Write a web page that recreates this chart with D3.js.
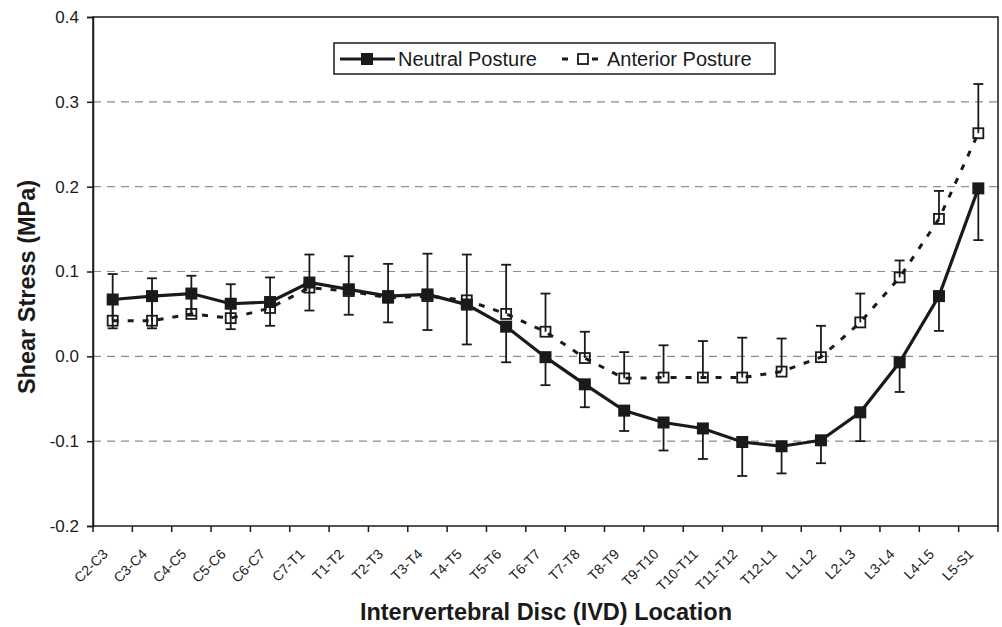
<!DOCTYPE html>
<html>
<head>
<meta charset="utf-8">
<script src="https://cdn.jsdelivr.net/npm/d3@7"></script>
<style>
  body { margin: 0; background: #fff; }
  text { font-family: "Liberation Sans", Arial, sans-serif; fill: #1a1a1a; }
</style>
</head>
<body>
<div id="chart"></div>
<script>
// IVD locations
const categories = ["C2-C3","C3-C4","C4-C5","C5-C6","C6-C7","C7-T1","T1-T2","T2-T3","T3-T4","T4-T5",
  "T5-T6","T6-T7","T7-T8","T8-T9","T9-T10","T10-T11","T11-T12","T12-L1","L1-L2","L2-L3","L3-L4","L4-L5","L5-S1"];

// Neutral posture: mean shear stress and (minus) error
const neutral = [0.067,0.071,0.074,0.062,0.064,0.087,0.079,0.071,0.073,0.061,
  0.035,-0.001,-0.033,-0.064,-0.078,-0.085,-0.101,-0.106,-0.099,-0.066,-0.007,0.071,0.198];
const neutralErr = [0.034,0.038,0.026,0.030,0.028,0.033,0.030,0.031,0.042,0.047,
  0.042,0.033,0.027,0.024,0.033,0.036,0.040,0.032,0.027,0.034,0.035,0.041,0.061];

// Anterior posture: mean shear stress and (plus) error
const anterior = [0.042,0.042,0.050,0.045,0.057,0.081,0.077,0.069,0.071,0.066,
  0.050,0.029,-0.002,-0.026,-0.025,-0.025,-0.025,-0.018,-0.001,0.040,0.093,0.162,0.263];
const anteriorErr = [0.055,0.050,0.045,0.040,0.036,0.039,0.041,0.040,0.050,0.054,
  0.058,0.045,0.031,0.031,0.038,0.043,0.047,0.039,0.037,0.034,0.020,0.033,0.058];

const yTicks = [-0.2,-0.1,0.0,0.1,0.2,0.3,0.4];
const seriesNames = ["Neutral Posture","Anterior Posture"];

const W = 1002, H = 627;
const margin = { top: 17, right: 4, bottom: 101, left: 93 };
const ink = "#1a1a1a";

const svg = d3.select("#chart").append("svg")
  .attr("width", W).attr("height", H);

const x = d3.scaleBand().domain(categories).range([margin.left, W - margin.right]).padding(0);
const y = d3.scaleLinear().domain([-0.2, 0.4]).range([H - margin.bottom, margin.top]);
const cx = c => x(c) + x.bandwidth() / 2;

// gridlines
svg.append("g")
  .selectAll("line")
  .data(yTicks.filter(t => t > -0.2 && t < 0.4))
  .join("line")
    .attr("x1", margin.left).attr("x2", W - margin.right)
    .attr("y1", d => y(d)).attr("y2", d => y(d))
    .attr("stroke", "#8c8c8c").attr("stroke-width", 1.2)
    .attr("stroke-dasharray", "8,6");

// plot frame
svg.append("rect")
  .attr("x", margin.left).attr("y", margin.top)
  .attr("width", W - margin.right - margin.left)
  .attr("height", H - margin.bottom - margin.top)
  .attr("fill", "none").attr("stroke", ink).attr("stroke-width", 1.5);

// y axis
const yAxis = svg.append("g")
  .attr("transform", `translate(${margin.left},0)`)
  .call(d3.axisLeft(y).tickValues(yTicks).tickSize(6).tickPadding(8).tickFormat(d => d.toFixed(1)));
yAxis.select(".domain").attr("stroke", ink).attr("stroke-width", 1.5);
yAxis.selectAll(".tick line").attr("stroke", ink).attr("stroke-width", 1.5);
yAxis.selectAll(".tick text")
  .style("font-family", '"Liberation Sans", Arial, sans-serif')
  .style("font-size", "17px").attr("fill", ink);

// x axis: ticks at band edges, labels at band centres
const xEdges = categories.map(c => x(c)).concat([x.range()[1]]);
const xAxis = svg.append("g");
xAxis.selectAll("line")
  .data(xEdges)
  .join("line")
    .attr("x1", d => d).attr("x2", d => d)
    .attr("y1", y(-0.2)).attr("y2", y(-0.2) + 6)
    .attr("stroke", ink).attr("stroke-width", 1.5);
xAxis.selectAll("text")
  .data(categories)
  .join("text")
    .attr("transform", d => `translate(${cx(d) - 4},${y(-0.2) + 29}) rotate(-45)`)
    .attr("text-anchor", "end")
    .style("font-size", "14px")
    .text(d => d);

// axis titles
svg.append("text")
  .attr("x", 546).attr("y", 620)
  .attr("text-anchor", "middle")
  .style("font-size", "23.5px").style("font-weight", "bold")
  .text("Intervertebral Disc (IVD) Location");
svg.append("text")
  .attr("transform", "translate(35,287) rotate(-90)")
  .attr("text-anchor", "middle")
  .style("font-size", "23.5px").style("font-weight", "bold")
  .text("Shear Stress (MPa)");

const neutralData = categories.map((c, i) => ({ c, v: neutral[i], e: neutralErr[i] }));
const anteriorData = categories.map((c, i) => ({ c, v: anterior[i], e: anteriorErr[i] }));

const line = d3.line().x(d => cx(d.c)).y(d => y(d.v));
const capW = 5;

function errorBars(data, sign) {
  const g = svg.append("g").attr("stroke", ink).attr("stroke-width", 1.8);
  g.selectAll("line.bar")
    .data(data)
    .join("line").attr("class", "bar")
      .attr("x1", d => cx(d.c)).attr("x2", d => cx(d.c))
      .attr("y1", d => y(d.v)).attr("y2", d => y(d.v + sign * d.e));
  g.selectAll("line.cap")
    .data(data)
    .join("line").attr("class", "cap")
      .attr("x1", d => cx(d.c) - capW).attr("x2", d => cx(d.c) + capW)
      .attr("y1", d => y(d.v + sign * d.e)).attr("y2", d => y(d.v + sign * d.e));
}

errorBars(neutralData, -1);
errorBars(anteriorData, 1);

// neutral series
svg.append("path")
  .datum(neutralData)
  .attr("d", line)
  .attr("fill", "none").attr("stroke", ink).attr("stroke-width", 3.2);
const ms = 12;
svg.append("g")
  .selectAll("rect")
  .data(neutralData)
  .join("rect")
    .attr("x", d => cx(d.c) - ms / 2).attr("y", d => y(d.v) - ms / 2)
    .attr("width", ms).attr("height", ms)
    .attr("fill", ink);

// anterior series
svg.append("path")
  .datum(anteriorData)
  .attr("d", line)
  .attr("fill", "none").attr("stroke", ink).attr("stroke-width", 3)
  .attr("stroke-dasharray", "6,9");
svg.append("g")
  .selectAll("rect")
  .data(anteriorData)
  .join("rect")
    .attr("x", d => cx(d.c) - ms / 2 + 1).attr("y", d => y(d.v) - ms / 2 + 1)
    .attr("width", ms - 2).attr("height", ms - 2)
    .attr("fill", "none").attr("stroke", ink).attr("stroke-width", 1.8);

// legend
const legend = svg.append("g");
legend.append("rect")
  .attr("x", 334).attr("y", 43).attr("width", 441).attr("height", 31)
  .attr("fill", "#fff").attr("stroke", ink).attr("stroke-width", 1.5);
const ly = 59;
legend.append("line")
  .attr("x1", 340).attr("x2", 395).attr("y1", ly).attr("y2", ly)
  .attr("stroke", ink).attr("stroke-width", 3.2);
legend.append("rect")
  .attr("x", 367 - ms / 2).attr("y", ly - ms / 2).attr("width", ms).attr("height", ms)
  .attr("fill", ink);
legend.append("text")
  .attr("x", 398).attr("y", ly).attr("dy", "0.35em")
  .style("font-size", "20px").text(seriesNames[0]);
legend.append("line")
  .attr("x1", 562).attr("x2", 605).attr("y1", ly).attr("y2", ly)
  .attr("stroke", ink).attr("stroke-width", 3).attr("stroke-dasharray", "6,9");
legend.append("rect")
  .attr("x", 583 - ms / 2 + 1).attr("y", ly - ms / 2 + 1).attr("width", ms - 2).attr("height", ms - 2)
  .attr("fill", "#fff").attr("stroke", ink).attr("stroke-width", 1.8);
legend.append("text")
  .attr("x", 607).attr("y", ly).attr("dy", "0.35em")
  .style("font-size", "20px").text(seriesNames[1]);
</script>
</body>
</html>
